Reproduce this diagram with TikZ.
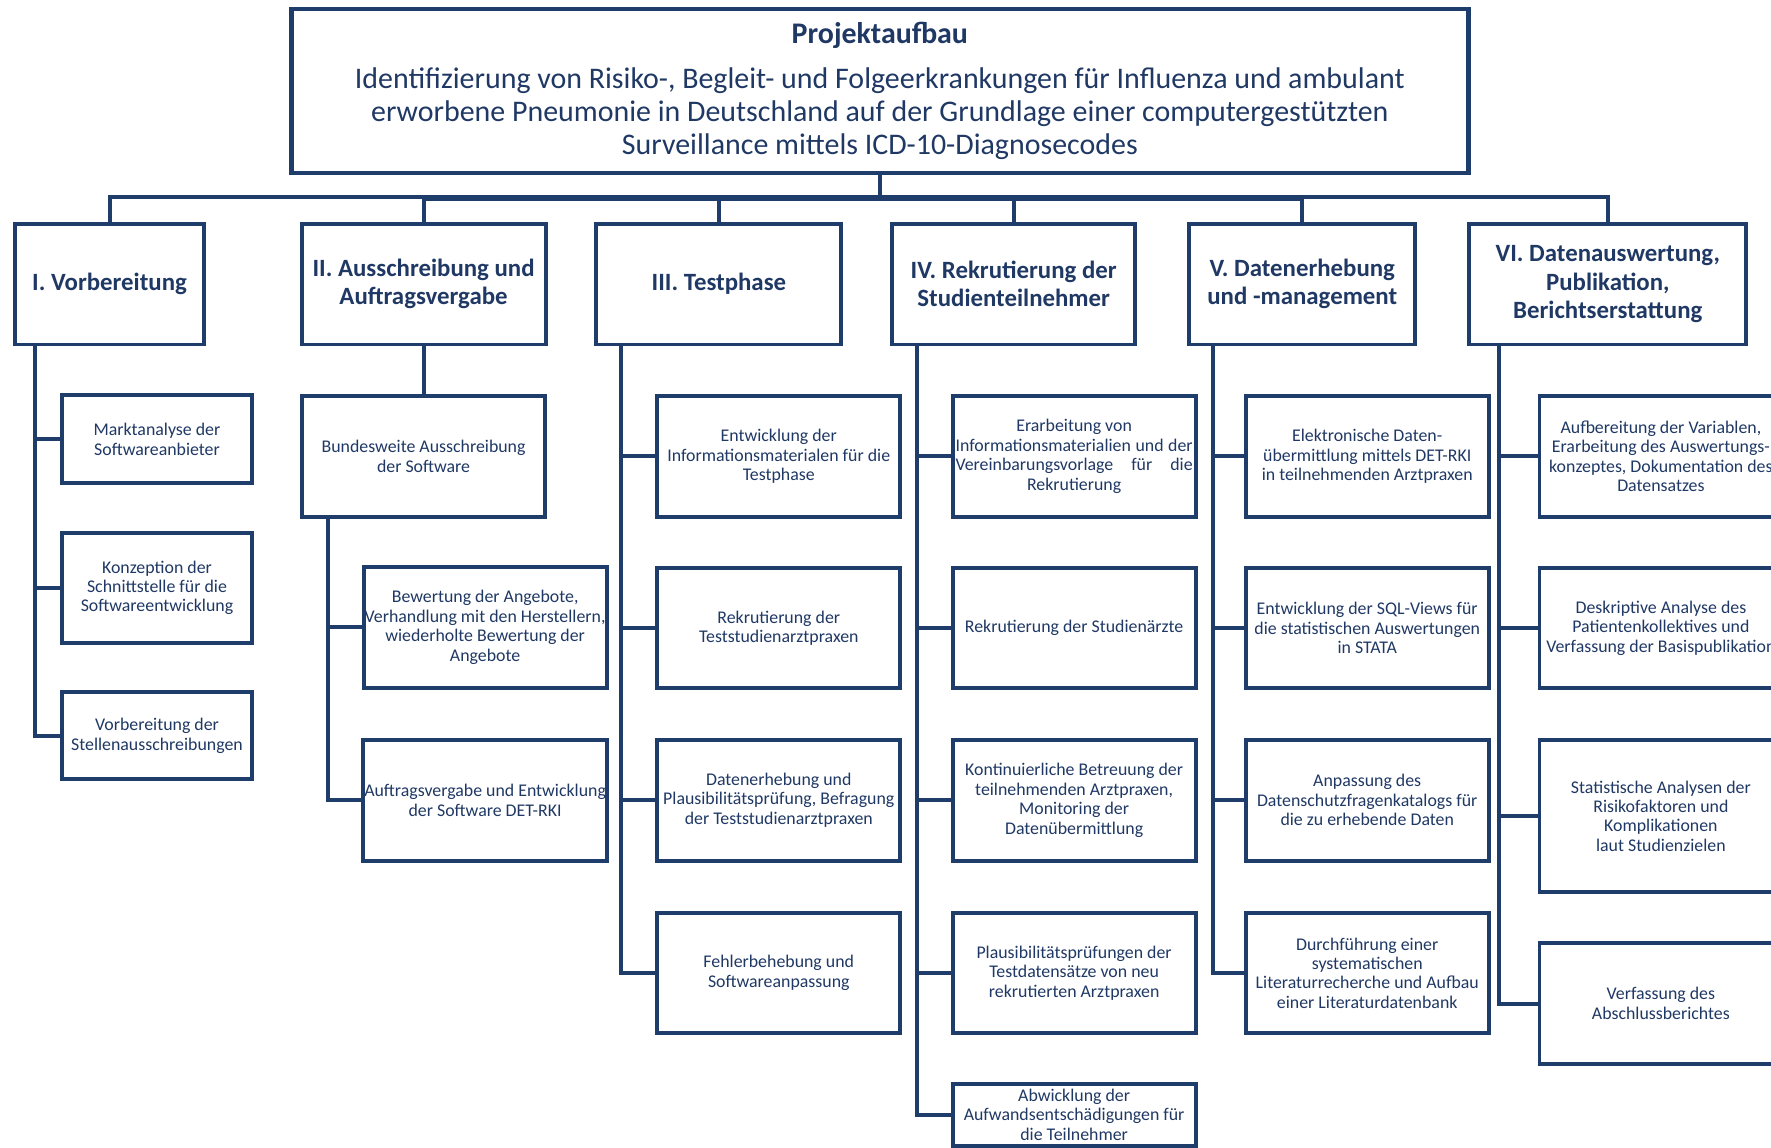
\documentclass[tikz,border=0pt]{standalone}
\usepackage{fontspec}
\setmainfont{Carlito}
\usepackage{tikz}

\definecolor{rahmen}{RGB}{31,61,107}
\definecolor{schrift}{RGB}{31,56,100}

\tikzset{
    kasten/.style={draw=rahmen, line width=3.5pt, text=schrift, align=center, inner sep=1pt, font=\fontsize{15.8}{17.2}\selectfont},
    phase/.style={kasten, font=\fontsize{22}{25}\selectfont\bfseries},
    ast/.style={draw=rahmen, line width=3.5pt}
}

\begin{document}
\begin{tikzpicture}[x=1pt,y=-1pt]
        \useasboundingbox (0,0) rectangle (1568,1016);
        \clip (0,0) rectangle (1568,1016);
        \node[kasten, line width=4pt, minimum width=1042pt, minimum height=145pt, font=\fontsize{26.5}{29}\selectfont] (top) at (779,80.5) {{\bfseries Projektaufbau}\\[11pt]Identifizierung von Risiko-, Begleit- und Folgeerkrankungen für Influenza und ambulant\\erworbene Pneumonie in Deutschland auf der Grundlage einer computergestützten\\Surveillance mittels ICD-10-Diagnosecodes};

        \begin{scope}[every node/.style={phase, minimum height=107pt}]
            \node[minimum width=168pt] (h1) at (97,251.5) {I. Vorbereitung};
            \node[minimum width=216pt] (h2) at (375,251.5) {II. Ausschreibung und\\Auftragsvergabe};
            \node[minimum width=217pt] (h3) at (636.5,251.5) {III. Testphase};
            \node[minimum width=215pt] (h4) at (897.5,251.5) {IV. Rekrutierung der\\Studienteilnehmer};
            \node[minimum width=200pt] (h5) at (1153,251.5) {V. Datenerhebung\\und -management};
            \node[minimum width=245pt] (h6) at (1423.5,251.5) {VI. Datenauswertung,\\Publikation,\\Berichtserstattung};
        \end{scope}

        \begin{scope}[every node/.style={kasten, minimum width=168pt}]
            \node[minimum height=78pt] (c11) at (139,389) {Marktanalyse der\\Softwareanbieter};
            \node[minimum height=97pt] (c12) at (139,520.5) {Konzeption der\\Schnittstelle für die\\Softwareentwicklung};
            \node[minimum height=77pt] (c13) at (139,651.5) {Vorbereitung der\\Stellenausschreibungen};
        \end{scope}

        \begin{scope}[every node/.style={kasten, minimum width=215pt, minimum height=107pt}]
            \node (c21) at (375,404) {Bundesweite Ausschreibung\\der Software};
            \node (c22) at (429.5,555.5) {Bewertung der Angebote,\\Verhandlung mit den Herstellern,\\wiederholte Bewertung der\\Angebote};
            \node (c23) at (429.5,708.5) {Auftragsvergabe und Entwicklung\\der Software DET-RKI};

            \node (c31) at (689.5,404) {Entwicklung der\\Informationsmaterialen für die\\Testphase};
            \node (c32) at (689.5,556) {Rekrutierung der\\Teststudienarztpraxen};
            \node (c33) at (689.5,708.5) {Datenerhebung und\\Plausibilitätsprüfung, Befragung\\der Teststudienarztpraxen};
            \node (c34) at (689.5,861.5) {Fehlerbehebung und\\Softwareanpassung};

            \node (c41) at (951,404) {Erarbeitung von\\\makebox[210pt][s]{Informationsmaterialien und der}\\\makebox[210pt][s]{Vereinbarungsvorlage für die}\\Rekrutierung};
            \node (c42) at (951,556) {Rekrutierung der Studienärzte};
            \node (c43) at (951,708.5) {Kontinuierliche Betreuung der\\teilnehmenden Arztpraxen,\\Monitoring der\\Datenübermittlung};
            \node (c44) at (951,861.5) {Plausibilitätsprüfungen der\\Testdatensätze von neu\\rekrutierten Arztpraxen};
            \node[minimum height=55pt] (c45) at (951,987) {Abwicklung der\\Aufwandsentschädigungen für\\die Teilnehmer};

            \node (c51) at (1210.5,404) {Elektronische Daten-\\übermittlung mittels DET-RKI\\in teilnehmenden Arztpraxen};
            \node (c52) at (1210.5,556) {Entwicklung der SQL-Views für\\die statistischen Auswertungen\\in STATA};
            \node (c53) at (1210.5,708.5) {Anpassung des\\Datenschutzfragenkatalogs für\\die zu erhebende Daten};
            \node (c54) at (1210.5,861.5) {Durchführung einer\\systematischen\\Literaturrecherche und Aufbau\\einer Literaturdatenbank};

            \node (c61) at (1470.5,404) {Aufbereitung der Variablen,\\Erarbeitung des Auswertungs-\\konzeptes, Dokumentation des\\Datensatzes};
            \node (c62) at (1470.5,556) {Deskriptive Analyse des\\Patientenkollektives und\\Verfassung der Basispublikation};
            \node[minimum height=134pt] (c63) at (1470.5,722.5) {Statistische Analysen der\\Risikofaktoren und\\Komplikationen\\laut Studienzielen};
            \node (c64) at (1470.5,888.5) {Verfassung des\\Abschlussberichtes};
        \end{scope}

        \coordinate (bus) at (779,176);
        \coordinate (s1) at (31,305);
        \coordinate (s2) at (290,458);
        \coordinate (s3) at (550,305);
        \coordinate (s4) at (812,305);
        \coordinate (s5) at (1074,305);
        \coordinate (s6) at (1327,305);

        \begin{scope}[every path/.style={ast}]
            \draw (top.south) -- (bus);
            \draw (h1.north) -- ++(0,-22) -| (h6.north);
            \draw (bus) -| (h2.north);
            \draw (bus) -| (h3.north);
            \draw (bus) -| (h4.north);
            \draw (bus) -| (h5.north);

            \draw (s1) |- (c11.west);
            \draw (s1) |- (c12.west);
            \draw (s1) |- (c13.west);

            \draw (h2.south) -- (c21.north);
            \draw (s2) |- (c22.west);
            \draw (s2) |- (c23.west);

            \draw (s3) |- (c31.west);
            \draw (s3) |- (c32.west);
            \draw (s3) |- (c33.west);
            \draw (s3) |- (c34.west);

            \draw (s4) |- (c41.west);
            \draw (s4) |- (c42.west);
            \draw (s4) |- (c43.west);
            \draw (s4) |- (c44.west);
            \draw (s4) |- (c45.west);

            \draw (s5) |- (c51.west);
            \draw (s5) |- (c52.west);
            \draw (s5) |- (c53.west);
            \draw (s5) |- (c54.west);

            \draw (s6) |- (c61.west);
            \draw (s6) |- (c62.west);
            \draw (s6) |- (c63.west);
            \draw (s6) |- (c64.west);
        \end{scope}
    \end{tikzpicture}
\end{document}
